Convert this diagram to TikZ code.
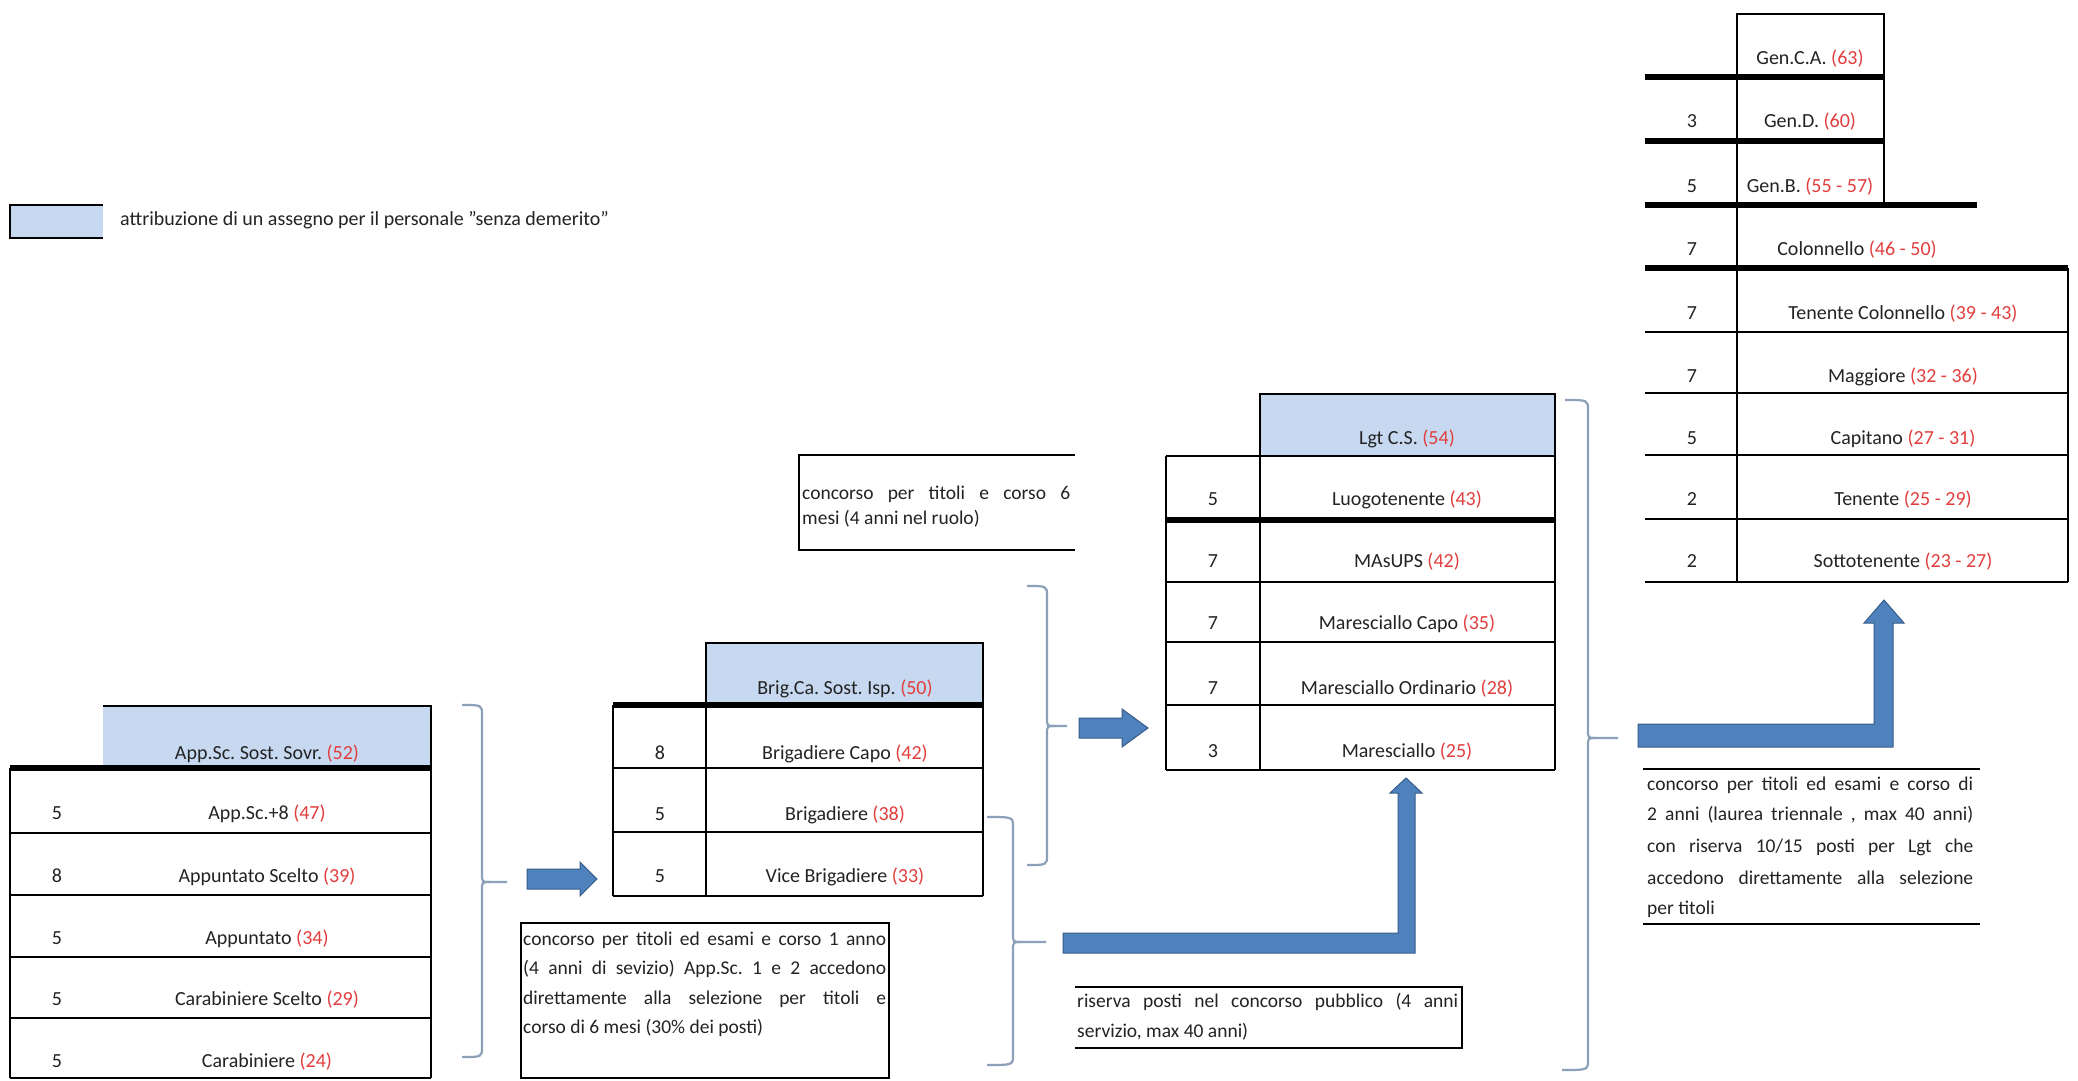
\documentclass[tikz,border=0pt]{standalone}
\usepackage{fontspec}
\setmainfont{Carlito}
\frenchspacing
\definecolor{headblue}{RGB}{198,217,240}
\definecolor{arrfill}{RGB}{79,129,189}
\definecolor{arrdraw}{RGB}{56,93,138}
\definecolor{numred}{RGB}{226,62,62}
\definecolor{txtgray}{RGB}{35,35,35}
\definecolor{bracecol}{RGB}{140,160,185}
\newcommand\redn[1]{\textcolor{numred}{#1}}
\tikzset{
  tline/.style={line width=2pt, draw=black},
  kline/.style={line width=6.5pt, draw=black},
  lbl/.style={inner sep=0pt, anchor=mid, font=\fontsize{20}{24}\selectfont, text=txtgray},
  para/.style={inner sep=0pt, anchor=mid west, font=\fontsize{19.5}{24}\selectfont, text=txtgray},
  brc/.style={draw=bracecol, line width=2.2pt},
  blockarrow/.style={fill=arrfill, draw=arrdraw, line width=1pt},
  headfill/.style={fill=headblue}
}
\begin{document}
\begin{tikzpicture}[x=1pt,y=-1pt]
\path[use as bounding box, fill=white] (0,0) rectangle (2078,1081);

% ---------- legend ----------
\fill[headblue] (10,205) rectangle (103,238);
\draw[tline] (103,205) -- (10,205) -- (10,238) -- (103,238);
\node[lbl, anchor=mid west] (legend) at (120,223) {attribuzione di un assegno per il personale \symbol{34}senza demerito\symbol{34}};

% ---------- table 1 ----------
\fill[headblue] (103,706) rectangle (431,768);
\draw[tline] (103,706) -- (431,706) -- (431,1078);
\draw[tline] (10,768) -- (10,1078);
\foreach \yy in {833,895,957,1018,1078} \draw[tline] (10,\yy) -- (431,\yy);
\draw[kline] (10,768) -- (431,768);
\node[lbl] (t1h) at (267,757) {App.Sc. Sost. Sovr. \redn{(52)}};
\node[lbl] (t1r1) at (267,817) {App.Sc.+8 \redn{(47)}};
\node[lbl] (t1r2) at (267,880) {Appuntato Scelto \redn{(39)}};
\node[lbl] (t1r3) at (267,942) {Appuntato \redn{(34)}};
\node[lbl] (t1r4) at (267,1003) {Carabiniere Scelto \redn{(29)}};
\node[lbl] (t1r5) at (267,1065) {Carabiniere \redn{(24)}};
\node[lbl] (t1n1) at (57,817) {5};
\node[lbl] (t1n2) at (57,880) {8};
\node[lbl] (t1n3) at (57,942) {5};
\node[lbl] (t1n4) at (57,1003) {5};
\node[lbl] (t1n5) at (57,1065) {5};

% ---------- table 2 ----------
\fill[headblue] (706,643) rectangle (983,705);
\draw[tline] (706,896) -- (706,643) -- (983,643) -- (983,896);
\draw[tline] (613,705) -- (613,896);
\foreach \yy in {768,832,896} \draw[tline] (613,\yy) -- (983,\yy);
\draw[kline] (613,705) -- (983,705);
\node[lbl] (t2h) at (845,692) {Brig.Ca. Sost. Isp. \redn{(50)}};
\node[lbl] (t2r1) at (845,757) {Brigadiere Capo \redn{(42)}};
\node[lbl] (t2r2) at (845,818) {Brigadiere \redn{(38)}};
\node[lbl] (t2r3) at (845,880) {Vice Brigadiere \redn{(33)}};
\node[lbl] (t2n1) at (660,757) {8};
\node[lbl] (t2n2) at (660,818) {5};
\node[lbl] (t2n3) at (660,880) {5};

% ---------- table 3 ----------
\fill[headblue] (1260,394) rectangle (1555,456);
\draw[tline] (1260,770) -- (1260,394) -- (1555,394) -- (1555,770);
\draw[tline] (1166,456) -- (1166,770);
\foreach \yy in {456,582,642,705,770} \draw[tline] (1166,\yy) -- (1555,\yy);
\draw[kline] (1166,520) -- (1555,520);
\node[lbl] (t3h) at (1407,442) {Lgt C.S. \redn{(54)}};
\node[lbl] (t3r1) at (1407,503) {Luogotenente \redn{(43)}};
\node[lbl] (t3r2) at (1407,565) {MAsUPS \redn{(42)}};
\node[lbl] (t3r3) at (1407,627) {Maresciallo Capo \redn{(35)}};
\node[lbl] (t3r4) at (1407,692) {Maresciallo Ordinario \redn{(28)}};
\node[lbl] (t3r5) at (1407,755) {Maresciallo \redn{(25)}};
\node[lbl] (t3n1) at (1213,503) {5};
\node[lbl] (t3n2) at (1213,565) {7};
\node[lbl] (t3n3) at (1213,627) {7};
\node[lbl] (t3n4) at (1213,692) {7};
\node[lbl] (t3n5) at (1213,755) {3};

% ---------- top table ----------
\draw[tline] (1737,582) -- (1737,14) -- (1884,14) -- (1884,205);
\draw[tline] (2068,268) -- (2068,582);
\foreach \yy in {332,393,455,519,582} \draw[tline] (1645,\yy) -- (2068,\yy);
\draw[kline] (1645,77) -- (1884,77);
\draw[kline] (1645,141) -- (1884,141);
\draw[kline] (1645,205) -- (1977,205);
\draw[kline] (1645,268) -- (2068,268);
\node[lbl] (t4r0) at (1810,62) {Gen.C.A. \redn{(63)}};
\node[lbl] (t4r1) at (1810,125) {Gen.D. \redn{(60)}};
\node[lbl] (t4r2) at (1810,190) {Gen.B. \redn{(55 - 57)}};
\node[lbl] (t4r3) at (1857,253) {Colonnello \redn{(46 - 50)}};
\node[lbl] (t4r4) at (1903,317) {Tenente Colonnello \redn{(39 - 43)}};
\node[lbl] (t4r5) at (1903,380) {Maggiore \redn{(32 - 36)}};
\node[lbl] (t4r6) at (1903,442) {Capitano \redn{(27 - 31)}};
\node[lbl] (t4r7) at (1903,503) {Tenente \redn{(25 - 29)}};
\node[lbl] (t4r8) at (1903,565) {Sottotenente \redn{(23 - 27)}};
\node[lbl] (t4n1) at (1692,125) {3};
\node[lbl] (t4n2) at (1692,190) {5};
\node[lbl] (t4n3) at (1692,253) {7};
\node[lbl] (t4n4) at (1692,317) {7};
\node[lbl] (t4n5) at (1692,380) {7};
\node[lbl] (t4n6) at (1692,442) {5};
\node[lbl] (t4n7) at (1692,503) {2};
\node[lbl] (t4n8) at (1692,565) {2};

% ---------- text box 1 ----------
\draw[tline] (521,923) rectangle (889,1078);
\node[para] (b1a) at (523,943) {\makebox[363pt][s]{concorso per titoli ed esami e corso 1 anno}};
\node[para] (b1b) at (523,972) {\makebox[363pt][s]{(4 anni di sevizio) App.Sc. 1 e 2 accedono}};
\node[para] (b1c) at (523,1002) {\makebox[363pt][s]{direttamente alla selezione per titoli e}};
\node[para] (b1d) at (523,1031) {corso di 6 mesi (30\% dei posti)};

% ---------- text box 2 ----------
\draw[tline] (1075,455) -- (799,455) -- (799,550) -- (1075,550);
\node[para] (b2a) at (802,497) {\makebox[268pt][s]{concorso per titoli e corso 6}};
\node[para] (b2b) at (802,522) {mesi (4 anni nel ruolo)};

% ---------- text box 3 ----------
\draw[tline] (1075,987) -- (1462,987) -- (1462,1048) -- (1075,1048);
\node[para] (b3a) at (1077,1005) {\makebox[381pt][s]{riserva posti nel concorso pubblico (4 anni}};
\node[para] (b3b) at (1077,1035) {servizio, max 40 anni)};

% ---------- text box 4 ----------
\draw[tline] (1643,769) -- (1980,769);
\draw[tline] (1643,924) -- (1980,924);
\node[para] (b4a) at (1647,788) {\makebox[326pt][s]{concorso per titoli ed esami e corso di}};
\node[para] (b4b) at (1647,818) {\makebox[326pt][s]{2 anni (laurea triennale , max 40 anni)}};
\node[para] (b4c) at (1647,850) {\makebox[326pt][s]{con riserva 10/15 posti per Lgt che}};
\node[para] (b4d) at (1647,882) {\makebox[326pt][s]{accedono direttamente alla selezione}};
\node[para] (b4e) at (1647,912) {per titoli};

% ---------- braces ----------
\draw[brc] (462,705) .. controls (482,705) .. (482,715) -- (482,874) .. controls (482,882) .. (490,882) -- (507,882);
\draw[brc] (490,882) .. controls (482,882) .. (482,890) -- (482,1047) .. controls (482,1057) .. (462,1057);
\draw[brc] (987,817) .. controls (1013,817) .. (1013,827) -- (1013,934) .. controls (1013,942) .. (1021,942) -- (1046,942);
\draw[brc] (1021,942) .. controls (1013,942) .. (1013,950) -- (1013,1055) .. controls (1013,1065) .. (987,1065);
\draw[brc] (1027,586) .. controls (1047,586) .. (1047,596) -- (1047,718) .. controls (1047,726) .. (1055,726) -- (1067,726);
\draw[brc] (1055,726) .. controls (1047,726) .. (1047,734) -- (1047,855) .. controls (1047,865) .. (1027,865);
\draw[brc] (1565,400) .. controls (1588,400) .. (1588,410) -- (1588,730) .. controls (1588,738) .. (1596,738) -- (1618,738);
\draw[brc] (1596,738) .. controls (1588,738) .. (1588,746) -- (1588,1060) .. controls (1588,1070) .. (1562,1070);

% ---------- block arrows ----------
\draw[blockarrow] (527,869) -- (580,869) -- (580,862) -- (597,879) -- (580,896) -- (580,889) -- (527,889) -- cycle;
\draw[blockarrow] (1079,718) -- (1122,718) -- (1122,709) -- (1148,728) -- (1122,747) -- (1122,738) -- (1079,738) -- cycle;
\draw[blockarrow] (1063,933) -- (1398,933) -- (1398,793) -- (1390,793) -- (1406,778) -- (1422,793) -- (1415,793) -- (1415,953) -- (1063,953) -- cycle;
\draw[blockarrow] (1638,724) -- (1874,724) -- (1874,623) -- (1864,623) -- (1884,600) -- (1904,623) -- (1893,623) -- (1893,747) -- (1638,747) -- cycle;
\end{tikzpicture}
\end{document}
